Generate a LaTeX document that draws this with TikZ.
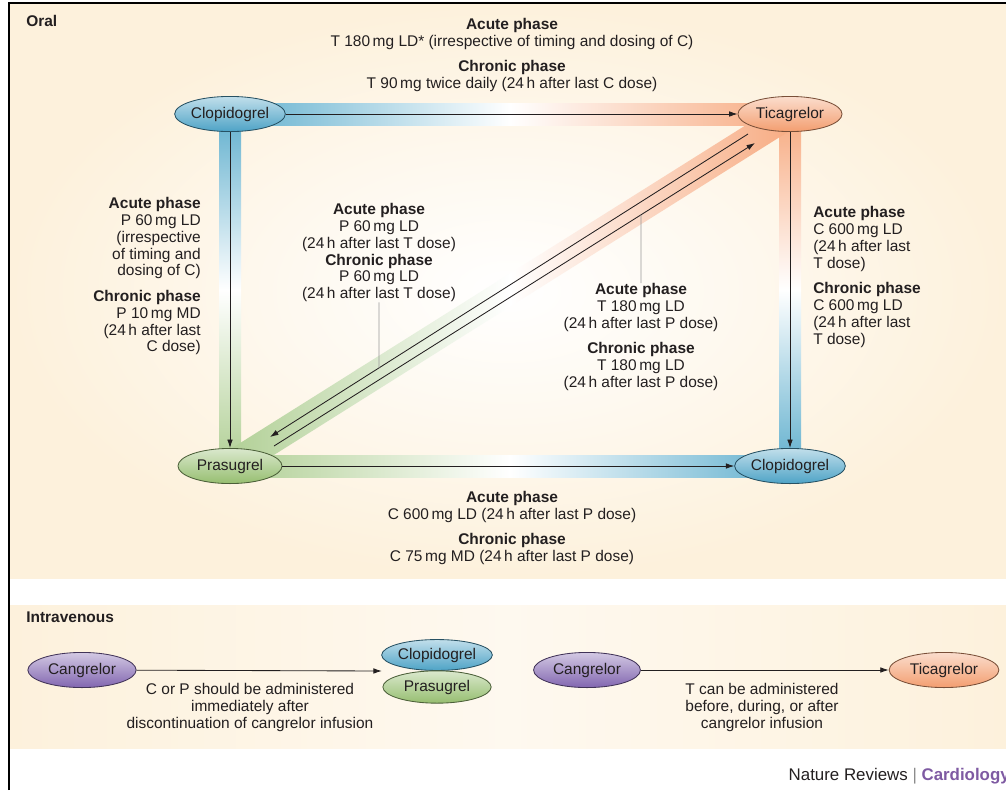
\documentclass[tikz,border=0pt]{standalone}
\usepackage{fontspec}
\setmainfont{Liberation Sans}
\usepackage{tikz}
\usepackage{xcolor}
\usetikzlibrary{calc,shapes.geometric,arrows.meta,backgrounds}
\definecolor{ink}{RGB}{35,31,32}
\definecolor{cream}{RGB}{253,241,220}
\definecolor{drugblue}{RGB}{78,163,198}
\definecolor{drugorange}{RGB}{243,158,112}
\definecolor{druggreen}{RGB}{150,190,112}
\definecolor{drugpurple}{RGB}{130,102,176}
\definecolor{bandblue}{RGB}{98,176,206}
\definecolor{bandorange}{RGB}{247,170,128}
\definecolor{bandgreen}{RGB}{176,207,148}
\definecolor{cardio}{RGB}{126,90,162}
\tikzset{>={Latex[length=6pt,width=4pt]},
  drug/.style={ellipse, draw=#1!50!black, line width=0.6pt, top color=#1!35!white,
    bottom color=#1, minimum width=74pt, minimum height=25pt, inner sep=0pt, text=ink},
  phase/.style={inner sep=0pt, text=ink},
  link/.style={->, line width=0.6pt, ink},
  callout/.style={line width=0.5pt, black!40}}

\begin{document}
\begin{tikzpicture}[x=0.025cm, y=-0.025cm, font=\fontsize{11}{12}\selectfont]
  \useasboundingbox (0,0) rectangle (1006,790);

  % oral switching
  \node[drug=drugblue] (clopi) at (230,114) {Clopidogrel};
  \node[drug=drugorange] (tica) at (790,114) {Ticagrelor};
  \node[drug=druggreen] (prasu) at (230,466) {Prasugrel};
  \node[drug=drugblue] (clopib) at (790,466) {Clopidogrel};

  % intravenous
  \node[drug=drugpurple, minimum width=77pt] (cang) at (82,670) {Cangrelor};
  \node[drug=drugblue, minimum width=77pt, minimum height=22pt] (clopiv) at (437,655) {Clopidogrel};
  \node[drug=druggreen, minimum width=77pt, minimum height=23pt] (prasuiv) at (437,687) {Prasugrel};
  \node[drug=drugpurple, minimum width=76pt] (cangb) at (587,670) {Cangrelor};
  \node[drug=drugorange, minimum width=78pt] (ticaiv) at (944,670) {Ticagrelor};

  \begin{scope}[on background layer]
    \shade[inner color=white, outer color=cream] (9,4) rectangle (1006,578);
    \shade[left color=cream, right color=cream, middle color=cream!45] (9,605) rectangle (1006,748);
    \shade[left color=bandblue, right color=bandorange, middle color=white]
      ($(clopi.center)+(0,-11)$) rectangle ($(tica.center)+(0,11)$);
    \shade[top color=bandblue, bottom color=bandgreen, middle color=white]
      ($(clopi.center)+(-11,0)$) rectangle ($(prasu.center)+(11,0)$);
    \shade[top color=bandorange, bottom color=bandblue, middle color=white]
      ($(tica.center)+(-11,0)$) rectangle ($(clopib.center)+(11,0)$);
    \shade[left color=bandgreen, right color=bandblue, middle color=white]
      ($(prasu.center)+(0,-11)$) rectangle ($(clopib.center)+(0,11)$);
    \shade[left color=bandgreen, right color=bandorange, middle color=white]
      ($(prasu)!10pt!90:(tica)$) -- ($(prasu)!10pt!-90:(tica)$)
      -- ($(tica)!10pt!90:(prasu)$) -- ($(tica)!10pt!-90:(prasu)$) -- cycle;
  \end{scope}

  \coordinate (tp1) at ([shift={(-42,2)}]tica.south);
  \coordinate (tp2) at ([shift={(40,-11)}]prasu.north);
  \coordinate (pt1) at ([shift={(44,-2)}]prasu.north);
  \coordinate (pt2) at ([shift={(-35,11)}]tica.south);

  \draw[link] (clopi) -- (tica);
  \draw[link] (clopi) -- (prasu);
  \draw[link] (tica) -- (clopib);
  \draw[link] (prasu) -- (clopib);
  \draw[link] (tp1) -- (tp2);
  \draw[link] (pt1) -- (pt2);

  \node[phase, anchor=north west] (oral) at (26,15) {\textbf{Oral}};
  \node[phase, align=center, anchor=north] (ctot) at (512,18)
    {\textbf{Acute phase}\\T 180\,mg LD* (irrespective of timing and dosing of C)\\[6pt]
     \textbf{Chronic phase}\\T 90\,mg twice daily (24\,h after last C dose)};
  \node[phase, align=right, anchor=north east] (ctop) at (201,197)
    {\textbf{Acute phase}\\P 60\,mg LD\\(irrespective\\of timing and\\dosing of C)\\[6pt]
     \textbf{Chronic phase}\\P 10\,mg MD\\(24\,h after last\\C dose)};
  \node[phase, align=center, anchor=north] (midl) at (379,203)
    {\textbf{Acute phase}\\P 60\,mg LD\\(24\,h after last T dose)\\
     \textbf{Chronic phase}\\P 60\,mg LD\\(24\,h after last T dose)};
  \node[phase, align=center, anchor=north] (midr) at (641,283)
    {\textbf{Acute phase}\\T 180\,mg LD\\(24\,h after last P dose)\\[6pt]
     \textbf{Chronic phase}\\T 180\,mg LD\\(24\,h after last P dose)};
  \node[phase, align=left, anchor=north west] (ttoc) at (813,206)
    {\textbf{Acute phase}\\C 600\,mg LD\\(24\,h after last\\T dose)\\[6pt]
     \textbf{Chronic phase}\\C 600\,mg LD\\(24\,h after last\\T dose)};
  \node[phase, align=center, anchor=north] (ptoc) at (512,491)
    {\textbf{Acute phase}\\C 600\,mg LD (24\,h after last P dose)\\[6pt]
     \textbf{Chronic phase}\\C 75\,mg MD (24\,h after last P dose)};

  \draw[callout] (midl.south) -- (intersection of midl.south--midl.north and tp1--tp2);
  \draw[callout] (midr.north) -- (intersection of midr.north--midr.south and pt1--pt2);

  \node[phase, anchor=north west] (iv) at (26,612) {\textbf{Intravenous}};
  \coordinate (ivpair) at ($(clopiv.west)!0.5!(prasuiv.west)$);
  \draw[link] (cang) -- (ivpair);
  \draw[link] (cangb) -- (ticaiv);
  \node[phase, align=center, anchor=north] (ivleft) at (250,683)
    {C or P should be administered\\immediately after\\discontinuation of cangrelor infusion};
  \node[phase, align=center, anchor=north] (ivright) at (762,683)
    {T can be administered\\before, during, or after\\cangrelor infusion};

  \node[phase, anchor=east, font=\fontsize{12}{14}\selectfont] (journal) at (1010,776)
    {Nature Reviews \textcolor{black!45}{|} \textcolor{cardio}{\textbf{Cardiology}}};

  \draw[line width=1.6pt] (9,790) -- (9,3) -- (1006,3);
\end{tikzpicture}
\end{document}
